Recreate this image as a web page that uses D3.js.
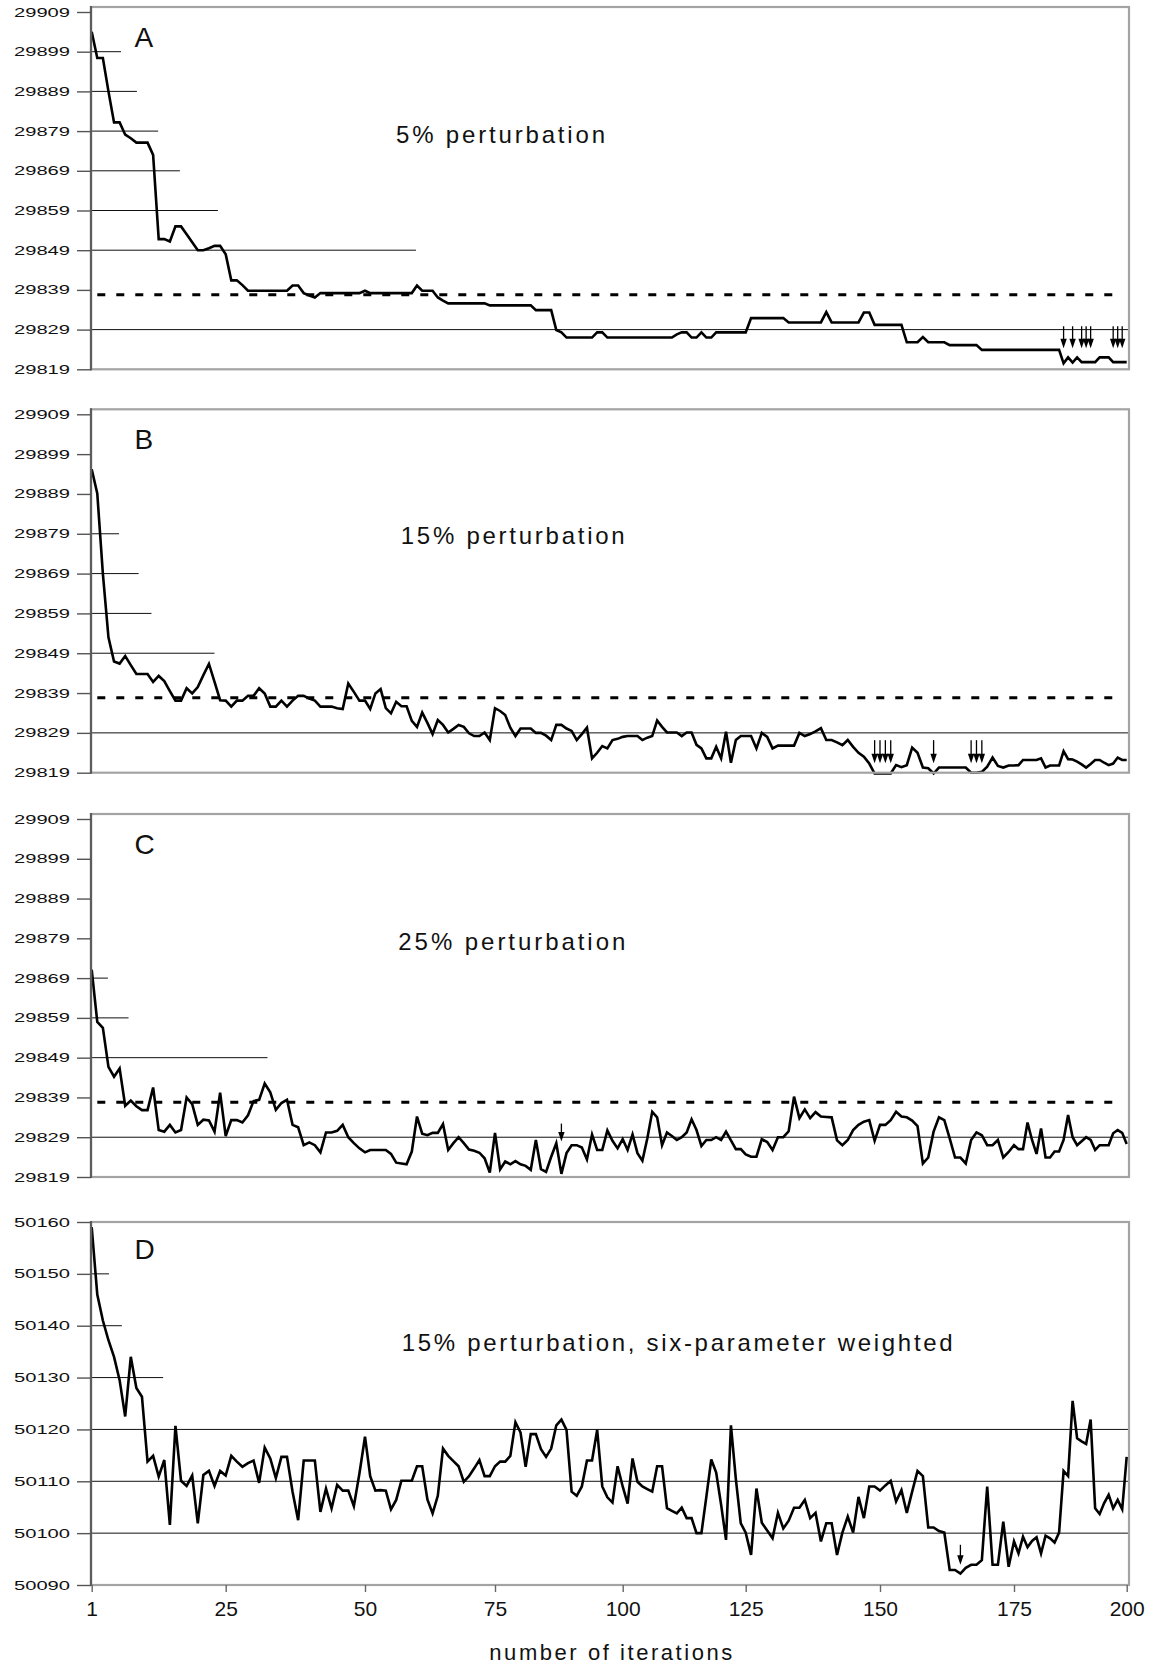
<!DOCTYPE html>
<html>
<head>
<meta charset="utf-8">
<script src="https://cdn.jsdelivr.net/npm/d3@7"></script>
<style>
body { margin: 0; background: #fff; }
svg { display: block; font-family: "Liberation Sans", Arial, Helvetica, sans-serif; }
</style>
</head>
<body>
<div id="chart-area"></div>
<script>

// x axis: iteration number (labels as printed)
var iterTicks = [1, 25, 50, 75, 100, 125, 150, 175, 200];

// y ticks
var energyTicks = [29819, 29829, 29839, 29849, 29859, 29869, 29879, 29889, 29899, 29909];
var weightedTicks = [50090, 50100, 50110, 50120, 50130, 50140, 50150, 50160];

// dashed reference level in A, B, C
var refEnergy = 29837.8;

// energy after each iteration (1..200)
var seriesA = [
	29904, 29897.4, 29897.4, 29889, 29881.2, 29881.2, 29878.1, 29877.2, 29876.1, 29876.1,
	29876.1, 29873, 29851.8, 29851.8, 29851.2, 29855, 29855, 29853, 29851, 29849,
	29849, 29849.5, 29850.1, 29850.1, 29848, 29841.4, 29841.4, 29840.2, 29838.8, 29838.8,
	29838.8, 29838.8, 29838.8, 29838.8, 29838.8, 29838.8, 29840.1, 29840.1, 29838.2, 29837.6,
	29837.1, 29838.2, 29838.2, 29838.2, 29838.2, 29838.2, 29838.2, 29838.2, 29838.2, 29838.8,
	29838.2, 29838.2, 29838.2, 29838.2, 29838.2, 29838.2, 29838.2, 29838.2, 29838.2, 29840.1,
	29838.8, 29838.8, 29838.8, 29837.1, 29836.3, 29835.6, 29835.6, 29835.6, 29835.6, 29835.6,
	29835.6, 29835.6, 29835.6, 29835.1, 29835.1, 29835.1, 29835.1, 29835.1, 29835.1, 29835.1,
	29835.1, 29835.1, 29833.9, 29833.9, 29833.9, 29833.9, 29828.9, 29828.3, 29827, 29827,
	29827, 29827, 29827, 29827, 29828.3, 29828.3, 29827, 29827, 29827, 29827,
	29827, 29827, 29827, 29827, 29827, 29827, 29827, 29827, 29827, 29827,
	29827.8, 29828.3, 29828.3, 29827, 29827, 29828.3, 29827, 29827, 29828.3, 29828.3,
	29828.3, 29828.3, 29828.3, 29828.3, 29828.3, 29831.9, 29831.9, 29831.9, 29831.9, 29831.9,
	29831.9, 29831.9, 29830.8, 29830.8, 29830.8, 29830.8, 29830.8, 29830.8, 29830.8, 29833.4,
	29830.8, 29830.8, 29830.8, 29830.8, 29830.8, 29830.8, 29833.3, 29833.3, 29830.2, 29830.2,
	29830.2, 29830.2, 29830.2, 29830.2, 29825.8, 29825.8, 29825.8, 29827.1, 29825.8, 29825.8,
	29825.8, 29825.8, 29825.1, 29825.1, 29825.1, 29825.1, 29825.1, 29825.1, 29823.9, 29823.9,
	29823.9, 29823.9, 29823.9, 29823.9, 29823.9, 29823.9, 29823.9, 29823.9, 29823.9, 29823.9,
	29823.9, 29823.9, 29823.9, 29823.9, 29823.9, 29820.5, 29822, 29820.7, 29822, 29820.8,
	29820.8, 29820.8, 29820.8, 29822, 29822, 29822, 29820.8, 29820.8, 29820.8, 29820.8
];

var seriesB = [
	29895.2, 29889.1, 29869, 29853, 29846.9, 29846.4, 29848.3, 29846, 29843.8, 29843.8,
	29843.8, 29841.8, 29843.3, 29842, 29839.5, 29837.1, 29837.1, 29840.2, 29838.9, 29840.5,
	29843.5, 29846.3, 29841.8, 29837.2, 29837.1, 29835.6, 29837.1, 29837.1, 29838.3, 29838.3,
	29840.2, 29838.9, 29835.6, 29835.6, 29837.1, 29835.6, 29837.1, 29838.3, 29838.3, 29837.6,
	29837.1, 29835.6, 29835.6, 29835.6, 29835.2, 29835, 29841.4, 29839.3, 29837.1, 29837.1,
	29835, 29838.9, 29840, 29835.2, 29833.9, 29836.8, 29835.7, 29835.7, 29832, 29830.5,
	29834.1, 29831.5, 29828.7, 29832.2, 29831, 29829.1, 29830, 29831, 29830.5, 29828.9,
	29828.2, 29828.2, 29829.1, 29827.2, 29835.2, 29834.5, 29833.5, 29830.3, 29828.2, 29830.1,
	29830.1, 29830.1, 29829, 29829, 29828.3, 29827.2, 29831, 29831, 29830.1, 29829.5,
	29827.2, 29828.7, 29830.3, 29822.6, 29824, 29825.7, 29825.1, 29827.2, 29827.5, 29828,
	29828.2, 29828.2, 29828.2, 29827.2, 29827.8, 29828.2, 29832.1, 29830.5, 29829.1, 29829.1,
	29829.1, 29828.2, 29829.1, 29829.1, 29826, 29825.1, 29822.6, 29822.6, 29825.5, 29822.6,
	29829.3, 29821.5, 29827.2, 29828.2, 29828.2, 29828.2, 29825.1, 29829, 29828, 29825.1,
	29825.8, 29825.8, 29825.8, 29825.8, 29829, 29828.2, 29828.7, 29829.4, 29830.2, 29827.2,
	29827.2, 29826.6, 29825.9, 29827.2, 29825.5, 29824, 29823, 29821.3, 29818.8, 29818.8,
	29818.8, 29818.8, 29820.9, 29820.4, 29820.9, 29825.3, 29824, 29820.3, 29820.1, 29818.8,
	29820.3, 29820.3, 29820.3, 29820.3, 29820.3, 29820.3, 29819, 29819, 29819.2, 29820.5,
	29822.8, 29820.7, 29820.3, 29820.8, 29820.8, 29820.9, 29822.2, 29822.2, 29822.2, 29822.2,
	29822.6, 29820.3, 29820.8, 29820.8, 29820.8, 29824.4, 29822.4, 29822.3, 29821.8, 29821.1,
	29820.3, 29821.2, 29822.2, 29822.2, 29821.5, 29820.9, 29821.3, 29822.8, 29822.2, 29822.2
];

var seriesC = [
	29871.1, 29858, 29856.5, 29846.7, 29844.2, 29846.3, 29836.9, 29838.2, 29836.8, 29835.8,
	29835.8, 29841.5, 29830.8, 29830.4, 29832.1, 29830.2, 29830.8, 29839, 29837.3, 29832.1,
	29833.4, 29833.2, 29830.4, 29840.2, 29829.3, 29833.3, 29833.3, 29832.7, 29834.5, 29838.1,
	29838.4, 29842.5, 29840.3, 29835.9, 29837.6, 29838.4, 29832.1, 29831.5, 29827, 29827.7,
	29827, 29825.2, 29830.2, 29830.2, 29830.6, 29832.1, 29829, 29827.5, 29826.2, 29825.2,
	29825.8, 29825.8, 29825.8, 29825.8, 29824.8, 29822.6, 29822.4, 29822.2, 29825.4, 29834.2,
	29829.9, 29829.5, 29830.1, 29830.1, 29832.3, 29825.8, 29827.5, 29829, 29827.5, 29825.9,
	29825.6, 29825.1, 29823.7, 29820.1, 29830.1, 29820.9, 29822.9, 29822.2, 29823, 29822.2,
	29821.8, 29820.8, 29828.3, 29821, 29820.3, 29824.1, 29827.5, 29819.8, 29825, 29827,
	29827, 29826.4, 29823.4, 29829.7, 29825.8, 29825.8, 29830.7, 29828.1, 29826.2, 29828.5,
	29825.8, 29829.7, 29825, 29823.1, 29828.7, 29835.4, 29834, 29827, 29830.2, 29829.3,
	29828.3, 29829, 29830.2, 29833.5, 29830.8, 29826.8, 29828.3, 29828.3, 29829, 29828.3,
	29830.4, 29828.2, 29826, 29826, 29824.7, 29824.1, 29824.1, 29828.5, 29827.8, 29825.8,
	29829, 29829, 29830.5, 29839.2, 29833.8, 29836, 29833.8, 29835.3, 29834.2, 29834.1,
	29834, 29828.2, 29827, 29828.3, 29830.8, 29832.1, 29832.9, 29833.3, 29828.1, 29832.1,
	29832.1, 29833.3, 29835.4, 29834.2, 29834, 29833.2, 29831.8, 29822.4, 29823.9, 29830.4,
	29834, 29833.3, 29828.7, 29823.9, 29823.9, 29822.4, 29828.3, 29830.2, 29829.5, 29827,
	29827, 29828.3, 29823.9, 29825.3, 29827, 29826, 29826, 29832.7, 29828.3, 29824.8,
	29831.2, 29823.9, 29823.9, 29825.4, 29825.4, 29828.3, 29834.6, 29829, 29827, 29828,
	29829, 29828.3, 29825.8, 29827, 29827, 29827, 29830, 29830.8, 29830.1, 29827.3
];

var seriesD = [
	50159, 50146, 50141, 50137.2, 50134, 50129.5, 50122.5, 50134, 50128, 50126.3,
	50113.8, 50114.9, 50110.9, 50114.1, 50101.6, 50120.7, 50110.1, 50109.1, 50111.1, 50101.9,
	50111.2, 50112, 50109.1, 50112, 50111.1, 50114.9, 50113.8, 50112.8, 50113.5, 50114,
	50109.7, 50116.5, 50114.4, 50110.6, 50114.7, 50114.7, 50108, 50102.5, 50114, 50114,
	50114, 50104.1, 50108.6, 50104.8, 50109.3, 50108.2, 50108.2, 50105.2, 50111.5, 50118.6,
	50111, 50108.2, 50108.3, 50108.2, 50104.6, 50106.4, 50110.1, 50110.1, 50110.1, 50112.9,
	50112.9, 50106.5, 50103.8, 50107.2, 50116.3, 50114.9, 50113.9, 50112.9, 50109.9, 50111,
	50112.5, 50114.1, 50111, 50111, 50112.9, 50113.8, 50113.8, 50114.9, 50121.4, 50119.4,
	50112.8, 50119.1, 50119.1, 50116.2, 50114.7, 50116.3, 50120.8, 50121.9, 50119.9, 50108,
	50107.2, 50109, 50114, 50114, 50119.9, 50109, 50106.9, 50105.9, 50112.9, 50109,
	50105.7, 50114.4, 50109.9, 50109, 50108.5, 50108, 50112.9, 50112.9, 50104.8, 50104.3,
	50103.8, 50104.9, 50102.9, 50102.9, 50100, 50100, 50107, 50114.2, 50111.7, 50105.5,
	50098.7, 50120.8, 50110.4, 50101.9, 50100.1, 50095.8, 50108.6, 50102, 50100.5, 50099,
	50103.9, 50100.9, 50102.4, 50104.9, 50104.9, 50106.4, 50102.9, 50103.9, 50098.4, 50101.9,
	50101.9, 50095.8, 50100.1, 50103.2, 50100.1, 50107, 50102.9, 50109, 50109, 50108.2,
	50109.2, 50110.1, 50106.1, 50108.3, 50103.9, 50108, 50112, 50111, 50101.1, 50101.1,
	50100.4, 50100.1, 50092.9, 50092.9, 50092.2, 50093.3, 50093.9, 50093.9, 50094.8, 50109,
	50093.9, 50093.9, 50102.2, 50093.5, 50098.4, 50096.1, 50099.3, 50097.3, 50098.5, 50099.2,
	50096.1, 50099.5, 50099, 50098.2, 50100.1, 50112, 50111, 50125.5, 50118.3, 50117.7,
	50117.2, 50121.9, 50104.8, 50103.7, 50105.8, 50107.4, 50104.8, 50106.4, 50104.6, 50114.7
];

// horizontal rules: [level, last iteration it reaches] (null = whole width)
var gridA = [[29899, 6.25], [29889, 9.1], [29879, 12.9], [29869, 16.8], [29859, 23.6], [29849, 59.8], [29829, null]];
var gridB = [[29879, 5.9], [29869, 9.4], [29859, 11.7], [29849, 23], [29829, null]];
var gridC = [[29869, 3.9], [29859, 7.6], [29849, 32.5], [29829, null]];
var gridD = [[50150, 4.1], [50140, 6.4], [50130, 13.8], [50120, null], [50110, null], [50100, null]];

// iterations marked with a down arrow, and the level of the arrow tip
var arrowsA = [186, 188, 190, 191, 192, 197, 198, 199];
var arrowsB = [149, 150, 151, 152, 160, 167, 168, 169];
var arrowsC = [88];
var arrowsD = [165];
var arrowTipA = 29824.3, arrowTipB = 29821.4, arrowTipC = 29827.9, arrowTipD = 50093.9;

var width = 1156,
	height = 1665;
var plotLeft = 91, plotRight = 1129;

var panels = [
	{letter: "A", title: "5% perturbation", values: seriesA, ticks: energyTicks, grid: gridA, ref: refEnergy,
		arrows: arrowsA, tip: arrowTipA, arrowLen: 22, top: 7, yBottom: 369.3, yTop: 12, titleX: 396, titleY: 143, titleW: 209},
	{letter: "B", title: "15% perturbation", values: seriesB, ticks: energyTicks, grid: gridB, ref: refEnergy,
		arrows: arrowsB, tip: arrowTipB, arrowLen: 23, top: 409.3, yBottom: 772.7, yTop: 414.3, titleX: 400.7, titleY: 544, titleW: 224},
	{letter: "C", title: "25% perturbation", values: seriesC, ticks: energyTicks, grid: gridC, ref: refEnergy,
		arrows: arrowsC, tip: arrowTipC, arrowLen: 18, top: 814, yBottom: 1177, yTop: 819, titleX: 398.3, titleY: 950, titleW: 227},
	{letter: "D", title: "15% perturbation, six-parameter weighted", values: seriesD, ticks: weightedTicks, grid: gridD, ref: null,
		arrows: arrowsD, tip: arrowTipD, arrowLen: 20, top: 1222, yBottom: 1585, yTop: 1222, titleX: 401.7, titleY: 1350.7, titleW: 551}
];

var svg = d3.select("#chart-area").append("svg")
	.attr("width", width)
	.attr("height", height);

svg.append("rect").attr("width", width).attr("height", height).attr("fill", "#fff");

// the printed tick labels are not evenly spaced, so the scale goes through each of them
var x = d3.scaleLinear()
	.domain(iterTicks)
	.range([91.7, 225.7, 365, 495, 622.7, 745.7, 880, 1014, 1126.7]);

panels.forEach(function(p) {
	var y = d3.scaleLinear()
		.domain([p.ticks[0], p.ticks[p.ticks.length - 1]])
		.range([p.yBottom, p.yTop]);

	var g = svg.append("g").attr("class", "panel");

	// gridlines
	g.selectAll("line.grid")
		.data(p.grid)
		.enter()
		.append("line")
		.attr("class", "grid")
		.attr("x1", plotLeft)
		.attr("x2", function(d) { return d[1] === null ? plotRight : x(d[1]); })
		.attr("y1", function(d) { return y(d[0]); })
		.attr("y2", function(d) { return y(d[0]); })
		.attr("stroke", "#111")
		.attr("stroke-width", 1);

	// dashed reference
	if (p.ref !== null) {
		g.append("line")
			.attr("x1", x(2))
			.attr("x2", x(199))
			.attr("y1", y(p.ref))
			.attr("y2", y(p.ref))
			.attr("stroke", "#000")
			.attr("stroke-width", 3)
			.attr("stroke-dasharray", "8,11");
	}

	var line = d3.line()
		.x(function(d, i) { return x(i + 1); })
		.y(function(d) { return y(d); });

	g.append("path")
		.datum(p.values)
		.attr("d", line)
		.attr("fill", "none")
		.attr("stroke", "#000")
		.attr("stroke-width", 2.6)
		.attr("stroke-linejoin", "miter")
		.attr("stroke-miterlimit", 4);

	// arrows
	var arr = g.selectAll("g.arrow")
		.data(p.arrows)
		.enter()
		.append("g")
		.attr("class", "arrow")
		.attr("transform", function(d) { return "translate(" + x(d) + "," + y(p.tip) + ")"; });
	arr.append("line")
		.attr("x1", 0).attr("x2", 0)
		.attr("y1", -p.arrowLen).attr("y2", -8)
		.attr("stroke", "#000")
		.attr("stroke-width", 1.3);
	arr.append("path")
		.attr("d", "M-3.2,-9.5L3.2,-9.5L0,0Z")
		.attr("fill", "#000");

	// frame
	g.append("rect")
		.attr("x", plotLeft)
		.attr("y", p.top)
		.attr("width", plotRight - plotLeft)
		.attr("height", p.yBottom - p.top)
		.attr("fill", "none")
		.attr("stroke", "#a3a3a3")
		.attr("stroke-width", 2.2);
	g.append("line")
		.attr("x1", plotLeft).attr("x2", plotLeft)
		.attr("y1", p.top - 1).attr("y2", p.yBottom + 1)
		.attr("stroke", "#5c5c5c")
		.attr("stroke-width", 2.2);

	// y axis
	var yAxis = d3.axisLeft(y)
		.tickValues(p.ticks)
		.tickSize(14)
		.tickSizeOuter(0)
		.tickPadding(7)
		.tickFormat(d3.format("d"));
	var ya = g.append("g")
		.attr("transform", "translate(" + plotLeft + ",0)")
		.call(yAxis);
	ya.select(".domain").remove();
	ya.selectAll(".tick line").attr("stroke", "#555").attr("stroke-width", 1.4);
	ya.selectAll(".tick text")
		.attr("font-family", "Liberation Sans, Arial, sans-serif")
		.attr("font-size", 12.5)
		.attr("fill", "#111")
		.attr("textLength", 56)
		.attr("lengthAdjust", "spacingAndGlyphs");

	// panel letter and title
	g.append("text")
		.attr("x", 134.5)
		.attr("y", p.yTop + (p.letter === "D" ? 36.5 : 34.7))
		.attr("font-size", 28)
		.attr("fill", "#111")
		.text(p.letter);

	g.append("text")
		.attr("x", p.titleX)
		.attr("y", p.titleY)
		.attr("font-size", 24)
		.attr("fill", "#111")
		.attr("textLength", p.titleW)
		.attr("lengthAdjust", "spacing")
		.text(p.title);
});

// shared x axis under the last panel
var xAxis = d3.axisBottom(x)
	.tickValues(iterTicks)
	.tickSize(7)
	.tickSizeOuter(0)
	.tickPadding(9.5);
var xa = svg.append("g")
	.attr("transform", "translate(0," + panels[3].yBottom + ")")
	.call(xAxis);
xa.select(".domain").remove();
xa.selectAll(".tick line").attr("stroke", "#666").attr("stroke-width", 1.4);
xa.selectAll(".tick text")
	.attr("font-family", "Liberation Sans, Arial, sans-serif")
	.attr("font-size", 21)
	.attr("fill", "#111");

svg.append("text")
	.attr("x", 489.3)
	.attr("y", 1660)
	.attr("font-size", 22)
	.attr("fill", "#111")
	.attr("textLength", 243)
	.attr("lengthAdjust", "spacing")
	.text("number of iterations");

</script>
</body>
</html>
